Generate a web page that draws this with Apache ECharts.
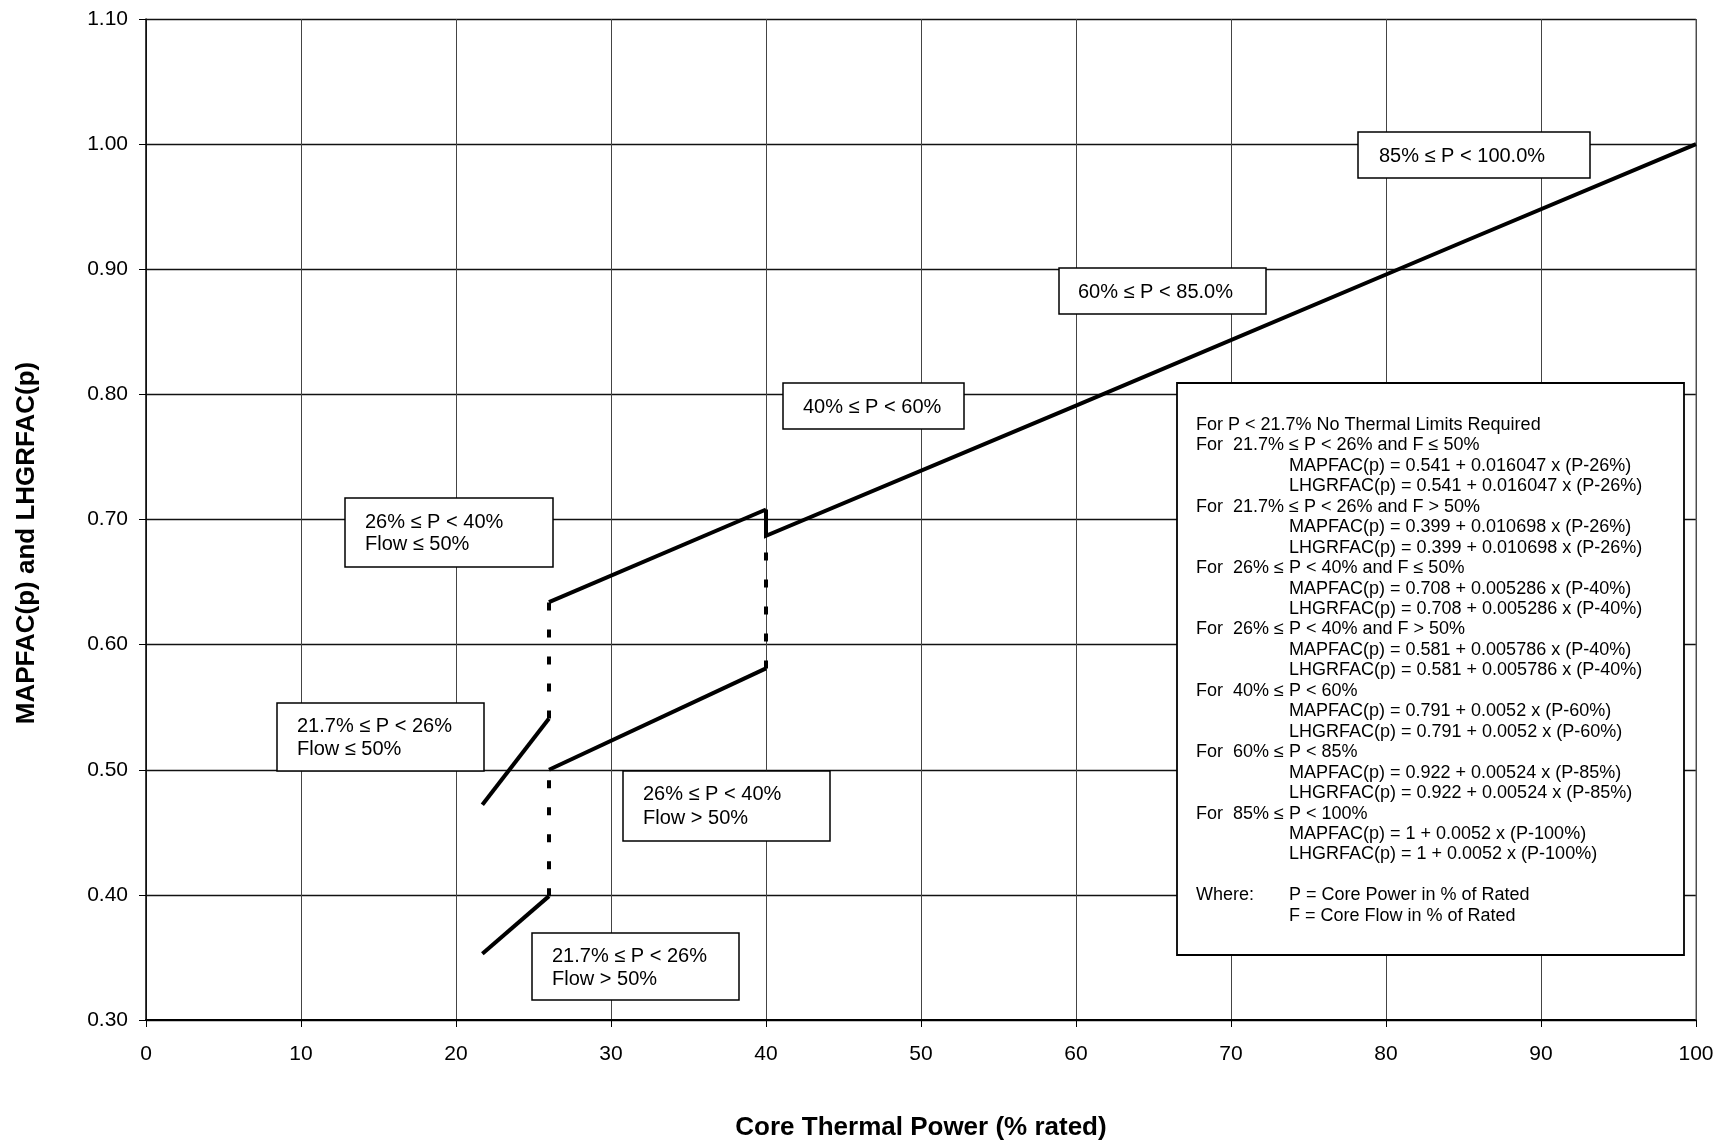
<!DOCTYPE html>
<html>
<head>
<meta charset="utf-8">
<script src="https://cdn.jsdelivr.net/npm/echarts@6/dist/echarts.min.js"></script>
<style>
html,body{margin:0;padding:0;background:#fff;}
#chart{width:1722px;height:1141px;}
</style>
</head>
<body>
<div id="chart"></div>
<script>
// ---- Data ----
const xAxisRange = [0, 100, 10];          // min, max, interval
const yAxisRange = [0.30, 1.10, 0.10];
const xAxisTitle = 'Core Thermal Power (% rated)';
const yAxisTitle = 'MAPFAC(p) and LHGRFAC(p)';

// solid curve segments [power %, factor]
const lowFlowLowPower  = [[21.7, 0.472], [26, 0.541]];
const highFlowLowPower = [[21.7, 0.353], [26, 0.399]];
const lowFlowMidPower  = [[26, 0.634], [40, 0.708]];
const highFlowMidPower = [[26, 0.500], [40, 0.581]];
const highPower        = [[40, 0.708], [40, 0.687], [60, 0.791], [85, 0.922], [100, 1.000]];

// dashed step connectors
const stepLowFlow26  = [[26, 0.541], [26, 0.634]];
const stepHighFlow26 = [[26, 0.399], [26, 0.500]];
const step40         = [[40, 0.581], [40, 0.687]];

// range annotation labels
const rangeLabels = [
  ['85% ≤ P < 100.0%'],
  ['60% ≤ P < 85.0%'],
  ['40% ≤ P < 60%'],
  ['26% ≤ P < 40%', 'Flow ≤ 50%'],
  ['21.7% ≤ P < 26%', 'Flow ≤ 50%'],
  ['26% ≤ P < 40%', 'Flow > 50%'],
  ['21.7% ≤ P < 26%', 'Flow > 50%']
];

// equation box lines: [left column, indented column]
const equationLines = [
  ['For P < 21.7% No Thermal Limits Required', ''],
  ['For  21.7% ≤ P < 26% and F ≤ 50%', ''],
  ['', 'MAPFAC(p) = 0.541 + 0.016047 x (P-26%)'],
  ['', 'LHGRFAC(p) = 0.541 + 0.016047 x (P-26%)'],
  ['For  21.7% ≤ P < 26% and F > 50%', ''],
  ['', 'MAPFAC(p) = 0.399 + 0.010698 x (P-26%)'],
  ['', 'LHGRFAC(p) = 0.399 + 0.010698 x (P-26%)'],
  ['For  26% ≤ P < 40% and F ≤ 50%', ''],
  ['', 'MAPFAC(p) = 0.708 + 0.005286 x (P-40%)'],
  ['', 'LHGRFAC(p) = 0.708 + 0.005286 x (P-40%)'],
  ['For  26% ≤ P < 40% and F > 50%', ''],
  ['', 'MAPFAC(p) = 0.581 + 0.005786 x (P-40%)'],
  ['', 'LHGRFAC(p) = 0.581 + 0.005786 x (P-40%)'],
  ['For  40% ≤ P < 60%', ''],
  ['', 'MAPFAC(p) = 0.791 + 0.0052 x (P-60%)'],
  ['', 'LHGRFAC(p) = 0.791 + 0.0052 x (P-60%)'],
  ['For  60% ≤ P < 85%', ''],
  ['', 'MAPFAC(p) = 0.922 + 0.00524 x (P-85%)'],
  ['', 'LHGRFAC(p) = 0.922 + 0.00524 x (P-85%)'],
  ['For  85% ≤ P < 100%', ''],
  ['', 'MAPFAC(p) = 1 + 0.0052 x (P-100%)'],
  ['', 'LHGRFAC(p) = 1 + 0.0052 x (P-100%)'],
  ['', ''],
  ['Where:', 'P = Core Power in % of Rated'],
  ['', 'F = Core Flow in % of Rated']
];

// ---- Layout (pixels) ----
const FONT = '"Liberation Sans", Arial, Helvetica, sans-serif';
const labelBoxes = [
  {x: 1358, y: 132, w: 232, h: 46, tx: 1379, ty: [156]},
  {x: 1059, y: 268, w: 207, h: 46, tx: 1078, ty: [292]},
  {x: 783,  y: 383, w: 181, h: 46, tx: 803,  ty: [407]},
  {x: 345,  y: 498, w: 208, h: 69, tx: 365,  ty: [522, 544]},
  {x: 277,  y: 703, w: 207, h: 68, tx: 297,  ty: [726, 749]},
  {x: 623,  y: 771, w: 207, h: 70, tx: 643,  ty: [794, 818]},
  {x: 532,  y: 933, w: 207, h: 67, tx: 552,  ty: [956, 979]}
];

const graphics = [];
labelBoxes.forEach((b, i) => {
  graphics.push({type: 'rect', z: 100, shape: {x: b.x, y: b.y, width: b.w, height: b.h},
    style: {fill: '#fff', stroke: '#000', lineWidth: 1.5}});
  rangeLabels[i].forEach((t, j) => {
    graphics.push({type: 'text', z: 101, x: b.tx, y: b.ty[j],
      style: {text: t, font: '20px ' + FONT, fill: '#000', textAlign: 'left', textVerticalAlign: 'middle'}});
  });
});

// equation box
graphics.push({type: 'rect', z: 100, shape: {x: 1177, y: 383, width: 507, height: 572},
  style: {fill: '#fff', stroke: '#000', lineWidth: 1.8}});
equationLines.forEach((ln, i) => {
  const y = 425 + i * 20.45;
  if (ln[0]) graphics.push({type: 'text', z: 101, x: 1196, y: y,
    style: {text: ln[0], font: '18px ' + FONT, fill: '#000', textAlign: 'left', textVerticalAlign: 'middle'}});
  if (ln[1]) graphics.push({type: 'text', z: 101, x: 1289, y: y,
    style: {text: ln[1], font: '18px ' + FONT, fill: '#000', textAlign: 'left', textVerticalAlign: 'middle'}});
});

// y axis title
graphics.push({type: 'text', z: 101, x: 27, y: 543, rotation: Math.PI / 2,
  style: {text: yAxisTitle, font: 'bold 26px ' + FONT, fill: '#000', textAlign: 'center', textVerticalAlign: 'middle'}});

function solid(data) {
  return {type: 'line', data: data, symbol: 'none', silent: true, z: 50,
    lineStyle: {color: '#000', width: 4, cap: 'butt', join: 'miter'}};
}
function dashed(data) {
  return {type: 'line', data: data, symbol: 'none', silent: true, z: 49,
    lineStyle: {color: '#000', width: 4, type: [8, 19], cap: 'butt'}};
}

const chart = echarts.init(document.getElementById('chart'), null, {renderer: 'canvas'});
chart.setOption({
  animation: false,
  backgroundColor: '#fff',
  grid: {left: 146, right: 26, top: 19, bottom: 121, containLabel: false, outerBoundsMode: 'none'},
  xAxis: {
    type: 'value', min: xAxisRange[0], max: xAxisRange[1], interval: xAxisRange[2],
    name: xAxisTitle, nameLocation: 'middle', nameGap: 95,
    nameTextStyle: {fontFamily: FONT, fontWeight: 'bold', fontSize: 26, color: '#000'},
    axisLine: {show: true, onZero: false, lineStyle: {color: '#000', width: 2}},
    axisTick: {show: true, inside: false, length: 7, lineStyle: {color: '#000', width: 1}},
    axisLabel: {fontFamily: FONT, fontSize: 21, color: '#000', margin: 24},
    splitLine: {show: true, lineStyle: {color: '#444', width: 1}}
  },
  yAxis: {
    type: 'value', min: yAxisRange[0], max: yAxisRange[1], interval: yAxisRange[2],
    axisLine: {show: true, onZero: false, lineStyle: {color: '#000', width: 1.5}},
    axisTick: {show: true, inside: false, length: 7, lineStyle: {color: '#000', width: 1}},
    axisLabel: {fontFamily: FONT, fontSize: 21, color: '#000', margin: 18,
      formatter: v => v.toFixed(2)},
    splitLine: {show: true, lineStyle: {color: '#111', width: 1.3}}
  },
  series: [
    solid(lowFlowLowPower), solid(highFlowLowPower), solid(lowFlowMidPower),
    solid(highFlowMidPower), solid(highPower),
    dashed(stepLowFlow26), dashed(stepHighFlow26), dashed(step40)
  ],
  graphic: graphics
});
// right border of plot area
const tr = chart.convertToPixel({gridIndex: 0}, [xAxisRange[1], yAxisRange[1]]);
const br = chart.convertToPixel({gridIndex: 0}, [xAxisRange[1], yAxisRange[0]]);
chart.setOption({graphic: graphics.concat([{type: 'line', z: 5, silent: true,
  shape: {x1: tr[0], y1: tr[1], x2: br[0], y2: br[1]}, style: {stroke: '#555', lineWidth: 1}}])});
</script>
</body>
</html>
